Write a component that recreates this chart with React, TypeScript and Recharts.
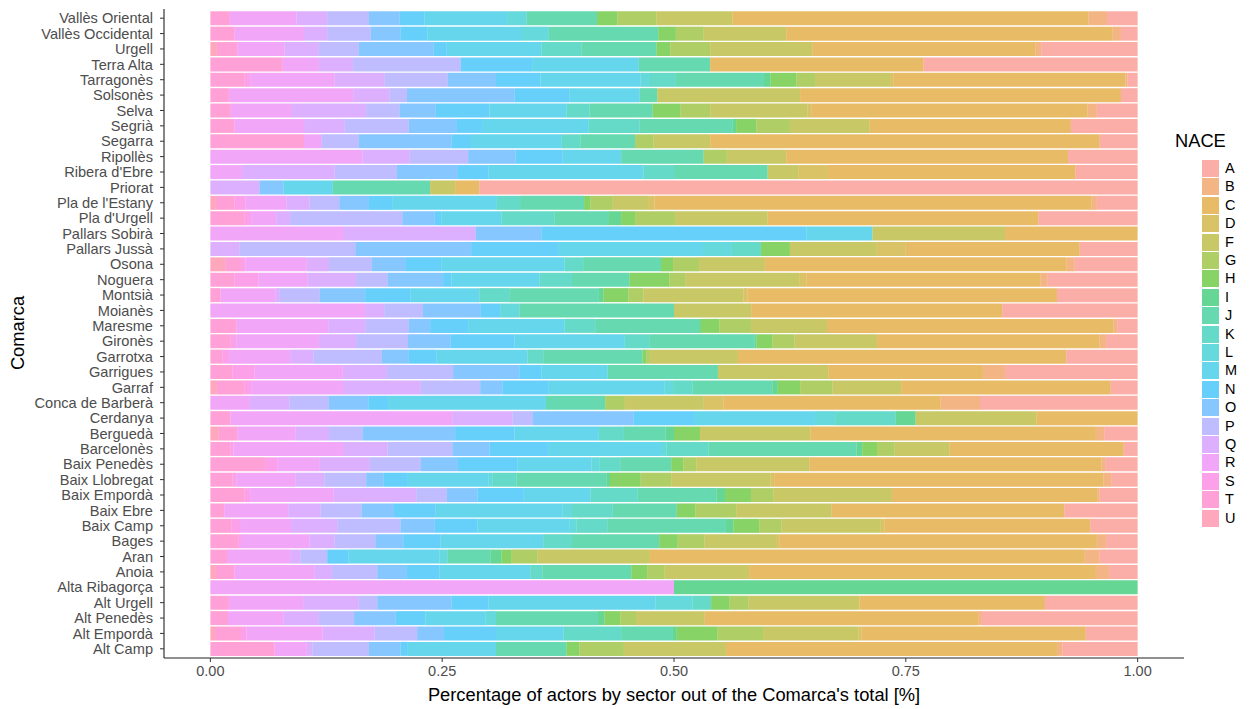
import React from 'react';
import { BarChart, Bar, XAxis, YAxis } from 'recharts';

const comarcas = [
  'Vallès Oriental', 'Vallès Occidental', 'Urgell', 'Terra Alta', 'Tarragonès', 'Solsonès', 'Selva', 'Segrià', 'Segarra', 'Ripollès',
  "Ribera d'Ebre", 'Priorat', "Pla de l'Estany", "Pla d'Urgell", 'Pallars Sobirà', 'Pallars Jussà', 'Osona', 'Noguera', 'Montsià', 'Moianès',
  'Maresme', 'Gironès', 'Garrotxa', 'Garrigues', 'Garraf', 'Conca de Barberà', 'Cerdanya', 'Berguedà', 'Barcelonès', 'Baix Penedès',
  'Baix Llobregat', 'Baix Empordà', 'Baix Ebre', 'Baix Camp', 'Bages', 'Aran', 'Anoia', 'Alta Ribagorça', 'Alt Urgell', 'Alt Penedès',
  'Alt Empordà', 'Alt Camp',
];

const naceCodes = ['A', 'B', 'C', 'D', 'F', 'G', 'H', 'I', 'J', 'K', 'L', 'M', 'N', 'O', 'P', 'Q', 'R', 'S', 'T', 'U'];
const naceColors = [
  '#F8766D', '#EA8331', '#D89000', '#C09B00', '#A3A500', '#7CAE00', '#39B600', '#00BB4E', '#00BF7D', '#00C1A3',
  '#00BFC4', '#00BAE0', '#00B0F6', '#35A2FF', '#9590FF', '#C77CFF', '#E76BF3', '#FA62DB', '#FF62BC', '#FF6C91',
];

const xTicks = [0, 25, 50, 75, 100];
const xTickLabels = ['0.00', '0.25', '0.50', '0.75', '1.00'];

// share of actors (%) per NACE sector, one entry per comarca (same order as comarcas)
const shareU = [0,0,0.7,0,0,0,0,0,0,0, 0,0,0.6,0,0,0,1.6,0,0,0, 0,0,0,0,0.7,0,0,0.9,0,0, 0,0,0,0,0,0,0.6,0,0,0, 0.5,0];
const shareT = [2.1,2.6,2.2,7.8,3.7,2.0,2.2,2.6,10.1,0, 0,0,2.0,3.7,0,0,1.7,2.6,1.1,0, 2.8,2.2,1.3,2.38,3.0,0,2.17,2.0,2.2,5.9, 2.4,3.7,1.5,2.3,3.0,1.8,2.0,0,2,1.9, 2.8,6.9];
const shareS = [0,0,0,0,0.6,0,0,0,0,0, 0,0,1.2,0.7,0,0,0.5,2.6,0,0, 0,0.6,0.7,2.38,0.7,0,0,0,0.3,1.3, 0.4,0.6,0,0.9,0.3,0,0,0,0,0, 0.6,0];
const shareR = [7.2,7.5,5.1,3.9,9.1,13.4,6.6,7.5,1.9,16.4, 3.4,0,4.4,2.7,14.3,0,6.6,5.3,5.9,16.67, 9.9,8.9,6.6,9.52,9.9,4.26,23.91,6.3,11.8,4.6, 6.4,9.0,6.9,5.5,7.4,6.8,8.6,50,8,6.0, 8.2,3.5];
const shareQ = [3.3,2.5,3.7,3.7,5.4,3.9,8.0,4.4,0,5.1, 10.0,5.3,2.5,1.5,14.3,3.125,2.4,5.2,0.5,2.08, 4.0,4.0,2.5,4.76,8.4,4.26,6.52,3.6,4.8,5.4, 3.1,8.9,3.5,5.0,2.7,1.1,1.9,0,6,3.8, 5.6,0.6];
const shareP = [4.5,4.7,4.3,11.6,6.8,1.9,3.6,6.9,4.0,6.3, 6.7,0,3.2,12.1,0,12.5,4.6,3.4,4.3,4.17, 4.7,5.6,7.4,7.14,6.4,4.26,2.17,3.6,7.0,5.5, 4.5,3.3,4.4,6.8,4.4,2.9,4.9,0,2,3.8, 4.6,6.1];
const shareO = [3.3,3.2,8.1,0,5.2,11.6,3.9,5.2,10.0,5.1, 6.6,2.6,3.2,3.5,7.1,12.5,3.7,6.0,4.9,6.25, 2.3,4.6,2.9,7.14,2.4,4.26,10.87,10.0,4.0,4.0, 1.9,3.3,3.5,3.7,3.0,0,3.2,0,8,4.5, 2.9,3.4];
const shareN = [2.7,2.9,1.4,7.7,4.8,5.9,5.8,2.7,2.0,5.1, 3.3,0,2.5,0.7,28.6,9.375,3.8,0.9,4.9,2.08, 4.1,6.9,3.0,2.38,5.0,2.13,6.52,6.4,6.3,6.4, 2.6,5.0,4.5,4.6,4.0,2.3,3.5,0,4,3.2, 5.6,0.8];
const shareM = [8.9,10.1,10.2,11.5,10.8,7.6,8.3,11.5,9.9,6.3, 16.7,5.3,11.3,6.5,7.1,15.625,13.3,9.5,7.4,0, 10.4,11.9,9.8,7.14,12.5,17.02,13.04,9.1,12.2,8.0, 8.7,7.2,13.7,9.9,11.1,9.8,9.8,0,18,6.5, 7.3,9.5];
const shareL = [2.1,3.0,0,0,0.9,0,0,0,0,0, 0,0,0,0,0,3.125,0,0,0,2.08, 0,0,0,0,0.9,0,2.17,0,0.6,0.9, 0.4,0,1.0,0.8,0,0.9,0,0,4,1.1, 0,0];
const shareK = [0,0,4.3,0,2.9,0,2.5,5.5,2.0,0, 3.3,0,2.5,5.7,0,3.125,2.0,3.5,3.3,0, 3.3,2.7,1.7,0,2.1,0,6.52,2.7,4.5,2.2, 2.6,5.1,4.4,3.3,3.1,0,1.3,0,2,0, 6.2,0];
const shareJ = [7.6,11.8,8.1,7.7,9.5,1.9,6.8,10.0,5.9,8.9, 10.1,10.5,6.9,5.8,0,0,8.4,6.2,9.6,16.67, 11.2,11.3,10.7,11.9,8.6,6.38,0,4.5,16.0,5.5, 9.7,8.5,6.9,12.8,9.4,4.6,9.6,0,0,11.0, 5.5,7.6];
const shareI = [0,0,0,0,0.7,0,0,0.4,0,0, 0,0,0,1.4,0,0,0,0,0.5,0, 0.2,0.2,0,0,0.6,0,2.17,0.9,0.6,0, 0.4,0.9,0,0.8,0,1.2,0,50,0,0.7, 0.5,0];
const shareH = [2.2,1.9,1.5,0,2.8,0,3.0,2.2,0,0, 0,0,0.7,1.5,0,3.125,1.3,4.3,2.7,0, 2.0,1.7,0.4,0,2.4,0,0,2.8,1.6,1.3, 3.3,2.8,2.0,2.8,2.0,1.1,1.7,0,2,1.7, 4.4,1.4];
const shareG = [4.2,3.0,4.3,0,2.0,0,3.2,3.6,2.0,2.5, 0,0,2.4,4.3,0,0,2.8,1.7,1.6,0, 3.4,2.4,0.4,0,3.5,2.13,0,0,1.9,1.4, 3.3,2.4,4.4,2.4,2.9,2.8,1.9,0,2,1.7, 4.9,4.8];
const shareF = [8.2,8.9,11.0,0,8.1,15.4,10.5,8.6,6.1,6.4, 3.3,2.7,3.8,10.0,14.3,9.375,7.1,12.3,10.8,8.33, 8.2,8.9,9.5,11.9,7.4,8.51,13.04,11.9,5.9,12.2, 10.7,12.8,10.3,10.7,7.7,12.1,9.1,0,12,7.4, 10.3,11.0];
const shareD = [0,0,0,0,0.4,0,0.4,0,0,0, 3.2,0,0.7,0,0,3.125,0,0.8,0.4,0, 0,0,0,0,0,2.13,0,0,0,0, 0.4,0,0,0.4,0.4,0,0,0,0,0, 0.3,0];
const shareC = [38.4,35.2,24.1,23.0,25.0,34.6,29.8,21.7,42.0,30.4, 26.7,2.6,47.1,29.2,14.3,18.75,32.5,25.2,33.4,27.08, 30.9,24.0,35.4,16.67,22.6,23.4,10.9,30.8,18.8,31.5, 35.5,22.2,25.1,22.2,34.2,46.9,37.4,0,20,29.5, 24.2,35.7];
const shareB = [2.0,0.9,0.6,0,0.2,0,1.0,0,0,0, 0,0,0.6,0,0,0,0.9,0.8,0,0, 0.4,0.7,0,2.38,0,4.26,0,0.9,0,0.4, 0.9,0.2,0,0,1.0,1.6,1.4,0,0,0.4, 0,0.6];
const shareA = [3.3,1.8,10.4,23.1,1.1,1.8,4.4,7.2,4.1,7.5, 6.7,71.0,4.4,10.7,0,6.25,6.8,9.7,8.7,14.59, 2.2,3.4,7.7,14.31,2.9,17.0,0,3.6,1.5,3.5, 2.8,4.1,7.9,5.1,3.4,4.1,3.1,0,10,16.8, 5.6,8.1];

const shares: Record<string, number[]> = {
  A: shareA, B: shareB, C: shareC, D: shareD, F: shareF, G: shareG, H: shareH, I: shareI, J: shareJ, K: shareK,
  L: shareL, M: shareM, N: shareN, O: shareO, P: shareP, Q: shareQ, R: shareR, S: shareS, T: shareT, U: shareU,
};

const data = comarcas.map((comarca, i) => {
  const row: Record<string, string | number> = { comarca };
  naceCodes.forEach((code) => {
    row[code] = shares[code][i];
  });
  return row;
});

// U is stacked first (left), A last (right)
const stackOrder = naceCodes.map((code, i) => ({ code, color: naceColors[i] })).reverse();

const FONT = '"Liberation Sans", Arial, Helvetica, sans-serif';

export default function App() {
  return (
    <div style={{ position: 'absolute', left: 0, top: 0, width: 1254, height: 709, background: '#fff', fontFamily: FONT }}>
      <BarChart
        width={1254}
        height={709}
        data={data}
        layout="vertical"
        margin={{ top: 9, right: 70, bottom: 0, left: 0 }}
        barCategoryGap="5%"
      >
        <XAxis
          type="number"
          domain={[-5, 105]}
          ticks={xTicks}
          tickFormatter={(v: number) => xTickLabels[xTicks.indexOf(v)]}
          height={51}
          tick={{ fill: '#4D4D4D', fontSize: 14.5 }}
          tickSize={4}
          tickMargin={4}
          tickLine={{ stroke: '#333333' }}
          axisLine={{ stroke: '#222222', strokeWidth: 1.1 }}
        />
        <YAxis
          type="category"
          dataKey="comarca"
          width={164}
          interval={0}
          padding={{ top: 1.5, bottom: 1.5 }}
          tick={{ fill: '#4D4D4D', fontSize: 14.6 }}
          tickSize={4}
          tickMargin={7}
          tickLine={{ stroke: '#333333' }}
          axisLine={{ stroke: '#222222', strokeWidth: 1.1 }}
        />
        {stackOrder.map(({ code, color }) => (
          <Bar key={code} dataKey={code} stackId="nace" fill={color} fillOpacity={0.6} isAnimationActive={false} />
        ))}
      </BarChart>

      <div
        style={{
          position: 'absolute', left: 374, width: 600, top: 685, textAlign: 'center',
          fontSize: 18.3, lineHeight: '20px', color: '#000', whiteSpace: 'nowrap',
        }}
      >
        Percentage of actors by sector out of the Comarca's total [%]
      </div>
      <div
        style={{
          position: 'absolute', left: 18, top: 333, transform: 'translate(-50%, -50%) rotate(-90deg)',
          fontSize: 18.3, lineHeight: '20px', color: '#000', whiteSpace: 'nowrap',
        }}
      >
        Comarca
      </div>

      <div style={{ position: 'absolute', left: 1175, top: 131, fontSize: 18.3, lineHeight: '20px', color: '#000' }}>NACE</div>
      {naceCodes.map((code, i) => (
        <div key={code} style={{ position: 'absolute', left: 1202, top: 160 + i * 18.4, height: 17, display: 'flex', alignItems: 'center' }}>
          <div style={{ width: 17, height: 17, background: naceColors[i], opacity: 0.6 }} />
          <div style={{ marginLeft: 6, fontSize: 14.5, lineHeight: '17px', color: '#000' }}>{code}</div>
        </div>
      ))}
    </div>
  );
}
